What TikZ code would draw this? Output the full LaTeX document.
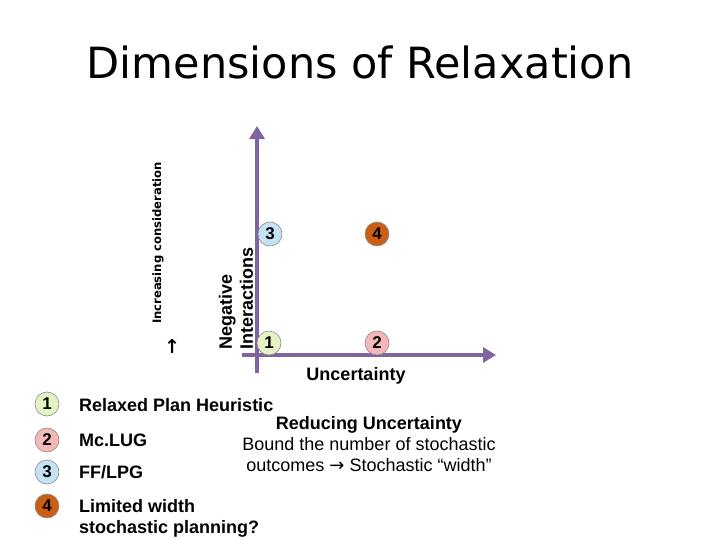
\documentclass[tikz,border=0pt]{standalone}
\usepackage{fontspec}
\setmainfont{Liberation Sans}
\newfontfamily\titlefont{DejaVu Sans}
\newfontfamily\dejavu{DejaVu Sans}
\usetikzlibrary{arrows.meta}
\definecolor{axis}{HTML}{8064A2}
\definecolor{cgreen}{HTML}{E4F2C4}
\definecolor{cpink}{HTML}{F4B8B8}
\definecolor{cblue}{HTML}{C4E4F6}
\definecolor{corange}{HTML}{CC5E14}
\tikzset{
  num/.style={circle, draw=black!45, line width=0.6pt, minimum size=24pt, inner sep=0pt, font=\bfseries\fontsize{17}{17}\selectfont},
  axisline/.style={draw=axis, line width=4pt, -{Triangle[width=15pt,length=13pt]}},
  lbl/.style={font=\bfseries\fontsize{18}{21}\selectfont, anchor=west, inner sep=0pt},
}
\begin{document}
\begin{tikzpicture}[x=1pt,y=-1pt]
\useasboundingbox (0,0) rectangle (720,540);
\node[font=\titlefont\fontsize{43}{43}\selectfont] (title) at (360,62) {Dimensions of Relaxation};
% axes
\coordinate (vbot) at (257,373);
\coordinate (vtop) at (257,126);
\coordinate (hleft) at (242,355);
\coordinate (hright) at (496,355);
\draw[axisline] (vbot) -- (vtop);
\draw[axisline] (hleft) -- (hright);
% quadrant circles
\node[num, fill=cblue] (q3) at (270,234) {3};
\node[num, fill=corange] (q4) at (377,234) {4};
\node[num, fill=cgreen] (q1) at (269,343) {1};
\node[num, fill=cpink] (q2) at (377,343) {2};
% axis labels
\node[font=\bfseries\fontsize{18}{21}\selectfont] (unc) at (356,376) {Uncertainty};
\node[font=\bfseries\fontsize{18}{21}\selectfont, rotate=90, align=left, anchor=west, inner sep=0pt] (neg) at (236,350) {Negative\\Interactions};
\node[font=\dejavu\bfseries\fontsize{11.6}{16}\selectfont, rotate=90] (inc) at (158,243) {Increasing consideration};
\node[font=\dejavu\bfseries\fontsize{19}{19}\selectfont, rotate=90] (incarr) at (173,347) {→};
% legend
\node[num, fill=cgreen] (l1) at (47,404) {1};
\node[num, fill=cpink] (l2) at (47,440) {2};
\node[num, fill=cblue] (l3) at (47,472) {3};
\node[num, fill=corange] (l4) at (47,506) {4};
\node[lbl] (t1) at (79,405) {Relaxed Plan Heuristic};
\node[lbl] (t2) at (79,440) {Mc.LUG};
\node[lbl] (t3) at (79,472) {FF/LPG};
\node[lbl, align=left, anchor=north west] (t4) at (79,499) {Limited width\\stochastic planning?};
% right text
\node[font=\fontsize{18}{21}\selectfont, align=center] (red) at (369,444) {\textbf{Reducing Uncertainty}\\Bound the number of stochastic\\outcomes {\dejavu →} Stochastic “width”};
\end{tikzpicture}
\end{document}
